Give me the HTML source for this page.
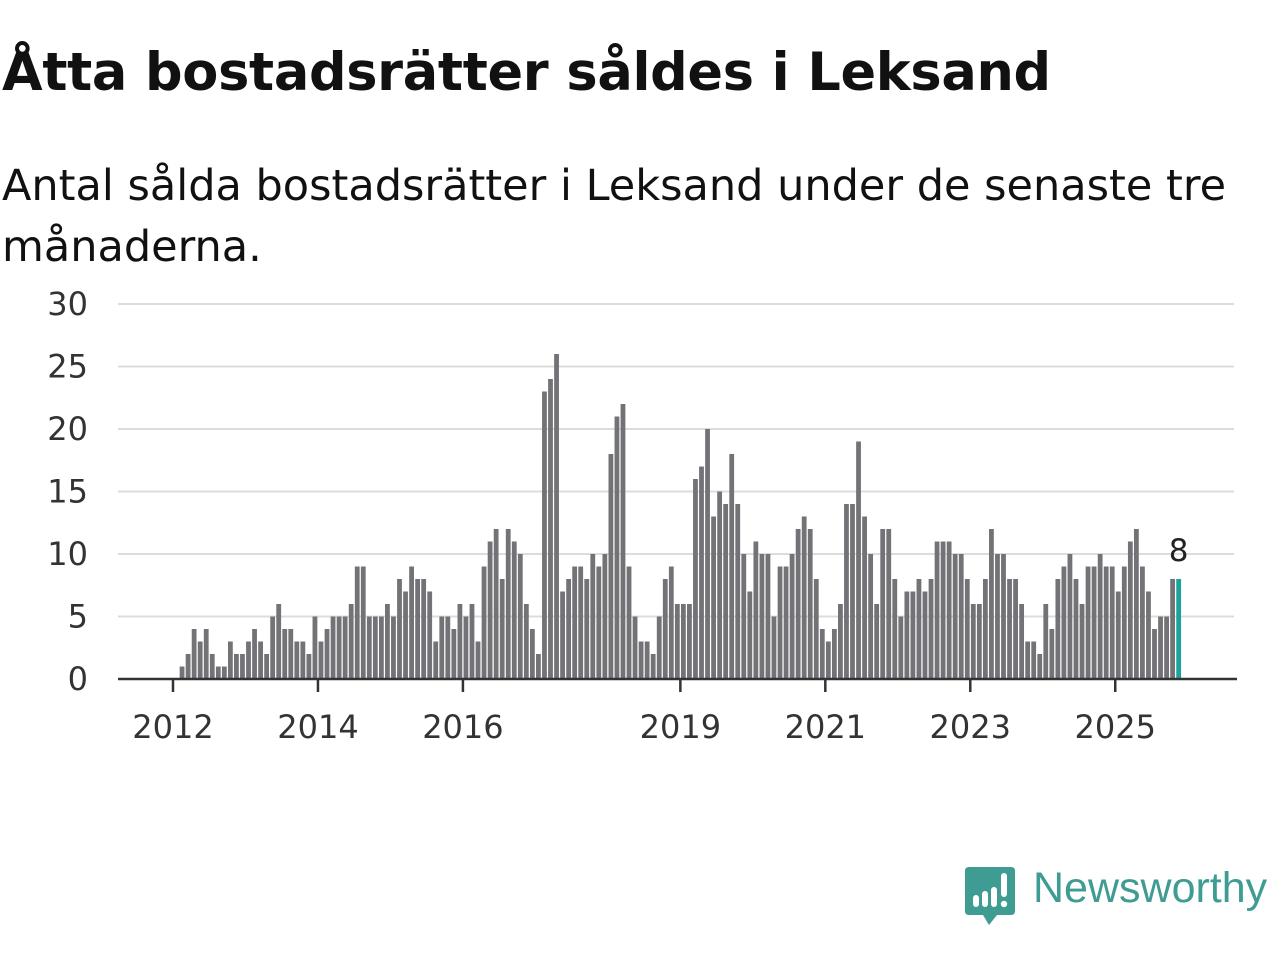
<!DOCTYPE html>
<html><head><meta charset="utf-8">
<style>
body{margin:0;width:1280px;height:960px;background:#fff;overflow:hidden;font-family:"Liberation Sans","DejaVu Sans",sans-serif;}
#title{position:absolute;left:2px;top:42px;font-size:52.5px;font-weight:bold;color:#111;margin:0;letter-spacing:-0.3px;font-family:"DejaVu Sans","Liberation Sans",sans-serif;}
#sub{position:absolute;left:2px;top:156px;font-size:43px;line-height:61px;color:#111;width:1275px;font-family:"DejaVu Sans","Liberation Sans",sans-serif;}
svg{position:absolute;left:0;top:0}
</style></head><body>
<h1 id="title">Åtta bostadsrätter såldes i Leksand</h1>
<div id="sub">Antal sålda bostadsrätter i Leksand under de senaste tre månaderna.</div>
<svg id="chart" width="1280" height="960"></svg>
<div style="position:absolute;left:965px;top:867px;">
<svg width="52" height="60" viewBox="0 0 52 60" style="position:static">
<path d="M4 0 H46 Q50 0 50 4 V44 Q50 48 46 48 H32 L24 58 L18 48 H4 Q0 48 0 44 V4 Q0 0 4 0 Z" fill="#3f9c93"/>
<rect x="8" y="28" width="6" height="12" rx="3" fill="#fff"/>
<rect x="17" y="24" width="6" height="16" rx="3" fill="#fff"/>
<rect x="26" y="20" width="6" height="20" rx="3" fill="#fff"/>
<rect x="36" y="6" width="6" height="24" rx="3" fill="#fff"/>
<circle cx="39" cy="37" r="3.2" fill="#fff"/>
</svg></div>
<div style="position:absolute;left:1033px;top:864px;font-size:43px;color:#3f9c93;font-family:'Liberation Sans',sans-serif;">Newsworthy</div>
<script>
const values=[1,2,4,3,4,2,1,1,3,2,2,3,4,3,2,5,6,4,4,3,3,2,5,3,4,5,5,5,6,9,9,5,5,5,6,5,8,7,9,8,8,7,3,5,5,4,6,5,6,3,9,11,12,8,12,11,10,6,4,2,23,24,26,7,8,9,9,8,10,9,10,18,21,22,9,5,3,3,2,5,8,9,6,6,6,16,17,20,13,15,14,18,14,10,7,11,10,10,5,9,9,10,12,13,12,8,4,3,4,6,14,14,19,13,10,6,12,12,8,5,7,7,8,7,8,11,11,11,10,10,8,6,6,8,12,10,10,8,8,6,3,3,2,6,4,8,9,10,8,6,9,9,10,9,9,7,9,11,12,9,7,4,5,5,8,8];
const yTicks=[0,5,10,15,20,25,30];
const yearLabels=[2012,2014,2016,2019,2021,2023,2025];
const startMonth=1; // Feb 2012 (months since Jan 2012)
const NS="http://www.w3.org/2000/svg";
const svg=document.getElementById('chart');
const y=v=>679-v*12.5;
const xm=m=>173+m*6.04;
function mk(t,a){const e=document.createElementNS(NS,t);for(const k in a)e.setAttribute(k,a[k]);svg.appendChild(e);return e;}
yTicks.forEach(t=>{
  if(t>0){const g=mk('line',{x1:118,x2:1234,y1:y(t),y2:y(t),stroke:'#dcdcdc','stroke-width':2});
  
  }
  const l=mk('text',{x:88,y:y(t)+11,'text-anchor':'end','font-size':32,fill:'#333','font-family':'DejaVu Sans, Liberation Sans, sans-serif'});
  l.textContent=t;
  
  
});
values.forEach((v,i)=>{
  const last=i===values.length-1;
  const cx=xm(startMonth+i+0.5);
  const r=mk('rect',{x:cx-2.4,y:y(v),width:4.8,height:v*12.5,fill:last?'#1aa39a':'#737277'});
  
  
  if(last){const t=mk('text',{x:cx,y:y(v)-18,'text-anchor':'middle','font-size':31,fill:'#222','font-family':'DejaVu Sans, Liberation Sans, sans-serif'});
    t.textContent=v;
    
    }
});
const ax=mk('line',{x1:118,x2:1237,y1:679,y2:679,stroke:'#333','stroke-width':2.5});


yearLabels.forEach(yr=>{
  const x=xm((yr-2012)*12);
  const tk=mk('line',{x1:x,x2:x,y1:679,y2:692,stroke:'#333','stroke-width':2.5});
  
  
  const l=mk('text',{x:x,y:738,'text-anchor':'middle','font-size':32,fill:'#333','font-family':'DejaVu Sans, Liberation Sans, sans-serif'});
  l.textContent=yr;
  
  
});
</script>
</body></html>
